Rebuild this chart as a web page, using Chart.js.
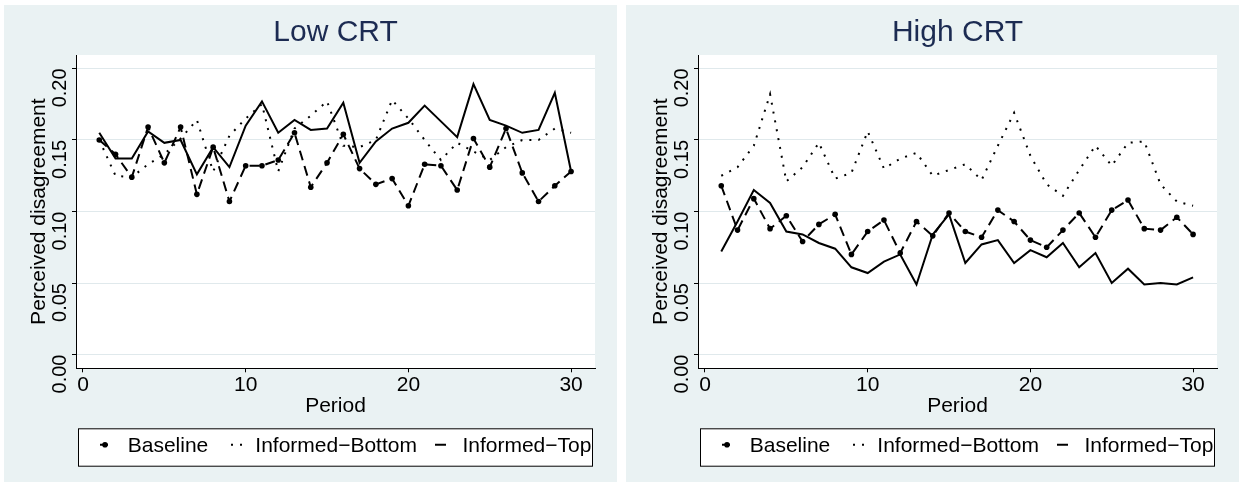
<!DOCTYPE html>
<html>
<head>
<meta charset="utf-8">
<script src="https://cdn.jsdelivr.net/npm/chart.js@4.4.1/dist/chart.umd.min.js"></script>
<style>
html,body{margin:0;padding:0;background:#fff;}
body{width:1241px;height:487px;position:relative;overflow:hidden;}
.panel{position:absolute;top:5px;width:613px;height:477px;background:#eaf2f3;}
.panel canvas{display:block;}
</style>
</head>
<body>
<div class="panel" style="left:4px"><canvas id="lowChart" width="613" height="477"></canvas></div>
<div class="panel" style="left:626px"><canvas id="highChart" width="613" height="477"></canvas></div>
<script>
const periods=[1,2,3,4,5,6,7,8,9,10,11,12,13,14,15,16,17,18,19,20,21,22,23,24,25,26,27,28,29,30];
const xTicks=[0,10,20,30];
const yTicks=[0,0.05,0.1,0.15,0.2];
const yTickLabels=['0.00','0.05','0.10','0.15','0.20'];
const seriesNames=['Baseline','Informed\u2212Bottom','Informed\u2212Top'];

// Low CRT
const baselineLow=[0.150,0.140,0.124,0.159,0.134,0.159,0.112,0.145,0.107,0.132,0.132,0.136,0.155,0.117,0.134,0.154,0.130,0.119,0.123,0.104,0.133,0.132,0.115,0.151,0.131,0.158,0.127,0.107,0.118,0.128];
const bottomLow=[0.150,0.125,0.124,0.133,0.140,0.151,0.164,0.128,0.153,0.165,0.175,0.128,0.158,0.167,0.177,0.146,0.145,0.150,0.178,0.165,0.150,0.136,0.148,0.142,0.136,0.145,0.150,0.150,0.158,0.155];
const topLow=[0.155,0.137,0.137,0.156,0.148,0.150,0.126,0.145,0.131,0.160,0.177,0.155,0.164,0.157,0.158,0.176,0.134,0.149,0.158,0.162,0.174,0.163,0.152,0.189,0.164,0.160,0.155,0.157,0.183,0.128];

// High CRT
const baselineHigh=[0.118,0.087,0.109,0.088,0.097,0.079,0.091,0.098,0.070,0.086,0.094,0.071,0.093,0.083,0.099,0.086,0.082,0.101,0.093,0.080,0.075,0.087,0.099,0.082,0.101,0.108,0.088,0.087,0.096,0.084];
const bottomHigh=[0.125,0.131,0.146,0.182,0.121,0.131,0.148,0.123,0.127,0.156,0.130,0.137,0.141,0.125,0.129,0.133,0.122,0.146,0.169,0.139,0.119,0.111,0.129,0.146,0.132,0.148,0.149,0.119,0.107,0.104];
const topHigh=[0.072,0.093,0.115,0.106,0.086,0.084,0.078,0.074,0.061,0.057,0.065,0.070,0.049,0.084,0.098,0.064,0.077,0.080,0.064,0.073,0.068,0.078,0.061,0.071,0.050,0.060,0.049,0.050,0.049,0.054];

const FONT='"Liberation Sans", Arial, sans-serif';
Chart.defaults.font.family=FONT;
Chart.defaults.color='#000';

const dashes=[[10,6],[2,7],[]];
const keyX=[26,158.5,362.5];
const textX=[49.7,177.3,384.4];

const decor={
  id:'decor',
  beforeDraw(chart){
    const {ctx,chartArea:a}=chart;
    ctx.save();
    ctx.fillStyle='#fff';
    ctx.fillRect(a.left,a.top,a.right-a.left,a.bottom-a.top);
    ctx.restore();
  },
  afterDraw(chart){
    const {ctx,chartArea:a,scales:{y}}=chart;
    ctx.save();
    ctx.fillStyle='#000';
    ctx.font='20px '+FONT;
    ctx.textAlign='right';
    ctx.textBaseline='middle';
    yTicks.forEach((v,i)=>{
      ctx.save();
      ctx.translate(56,y.getPixelForValue(v));
      ctx.rotate(-Math.PI/2);
      ctx.fillText(yTickLabels[i],0,0);
      ctx.restore();
    });
    // legend box
    const bx=a.left+2,bw=a.right-a.left-4,by=a.bottom+60,bh=38.4;
    ctx.fillStyle='#fff';
    ctx.fillRect(bx,by,bw,bh);
    ctx.strokeStyle='#000';
    ctx.lineWidth=1;
    ctx.strokeRect(bx+0.5,by+0.5,bw-1,bh-1);
    ctx.beginPath();
    ctx.rect(bx+1,by+1,bw-2,bh-2);
    ctx.clip();
    ctx.fillStyle='#000';
    const cy=by+16.5;
    chart.data.datasets.forEach((ds,i)=>{
      const cx=bx+keyX[i];
      ctx.save();
      ctx.strokeStyle='#000';
      ctx.fillStyle='#000';
      ctx.lineWidth=2;
      ctx.setLineDash(ds.borderDash);
      ctx.beginPath();
      const half=i===0?4:5.5;
      ctx.moveTo(cx-half,cy);ctx.lineTo(cx+half,cy);
      ctx.stroke();
      if(ds.pointRadius>0){
        ctx.beginPath();ctx.arc(cx+1,cy,ds.pointRadius,0,Math.PI*2);ctx.fill();
      }
      ctx.restore();
      ctx.font='21px '+FONT;
      ctx.textAlign='left';
      ctx.textBaseline='alphabetic';
      ctx.fillText(ds.label,bx+textX[i],by+23.4);
    });
    ctx.restore();
  }
};

const makeChart=(id,title,sets)=>new Chart(document.getElementById(id),{
  type:'line',
  data:{datasets:sets.map((vals,i)=>({
    label:seriesNames[i],
    data:periods.map((p,k)=>({x:p,y:vals[k]})),
    borderColor:'#000',backgroundColor:'#000',borderWidth:2,borderDash:dashes[i],
    pointRadius:i===0?2.8:0,pointBorderWidth:0,pointHoverRadius:0,tension:0,fill:false
  }))},
  options:{
    responsive:false,animation:false,devicePixelRatio:1,
    layout:{padding:{left:0,top:0,right:22,bottom:0}},
    plugins:{
      legend:{display:false},
      tooltip:{enabled:false},
      title:{display:true,text:title,fullSize:false,color:'#1c2b52',font:{size:30,weight:'normal'},padding:{top:10,bottom:4}}
    },
    scales:{
      x:{
        type:'linear',min:-0.43,max:31.47,
        afterBuildTicks:s=>{s.ticks=xTicks.map(v=>({value:v}));},
        afterFit:s=>{s.height=113.7;},
        grid:{drawOnChartArea:false,drawTicks:true,tickLength:4,tickColor:'#000'},
        border:{color:'#000',width:1},
        ticks:{color:'#000',font:{size:21},padding:0,maxRotation:0,autoSkip:false},
        title:{display:true,text:'Period',color:'#000',font:{size:21},padding:{top:0,bottom:62.9}}
      },
      y:{
        type:'linear',min:-0.0096,max:0.2094,
        afterBuildTicks:s=>{s.ticks=yTicks.map(v=>({value:v}));},
        afterFit:s=>{s.width=72;},
        grid:{color:'#e0e9ec',lineWidth:1,drawTicks:true,tickLength:4,tickColor:'#000'},
        border:{color:'#000',width:1},
        ticks:{display:false},
        title:{display:true,text:'Perceived disagreement',color:'#000',font:{size:21},padding:{top:23,bottom:0}}
      }
    }
  },
  plugins:[decor]
});

makeChart('lowChart','Low CRT',[baselineLow,bottomLow,topLow]);
makeChart('highChart','High CRT',[baselineHigh,bottomHigh,topHigh]);
</script>
</body>
</html>
